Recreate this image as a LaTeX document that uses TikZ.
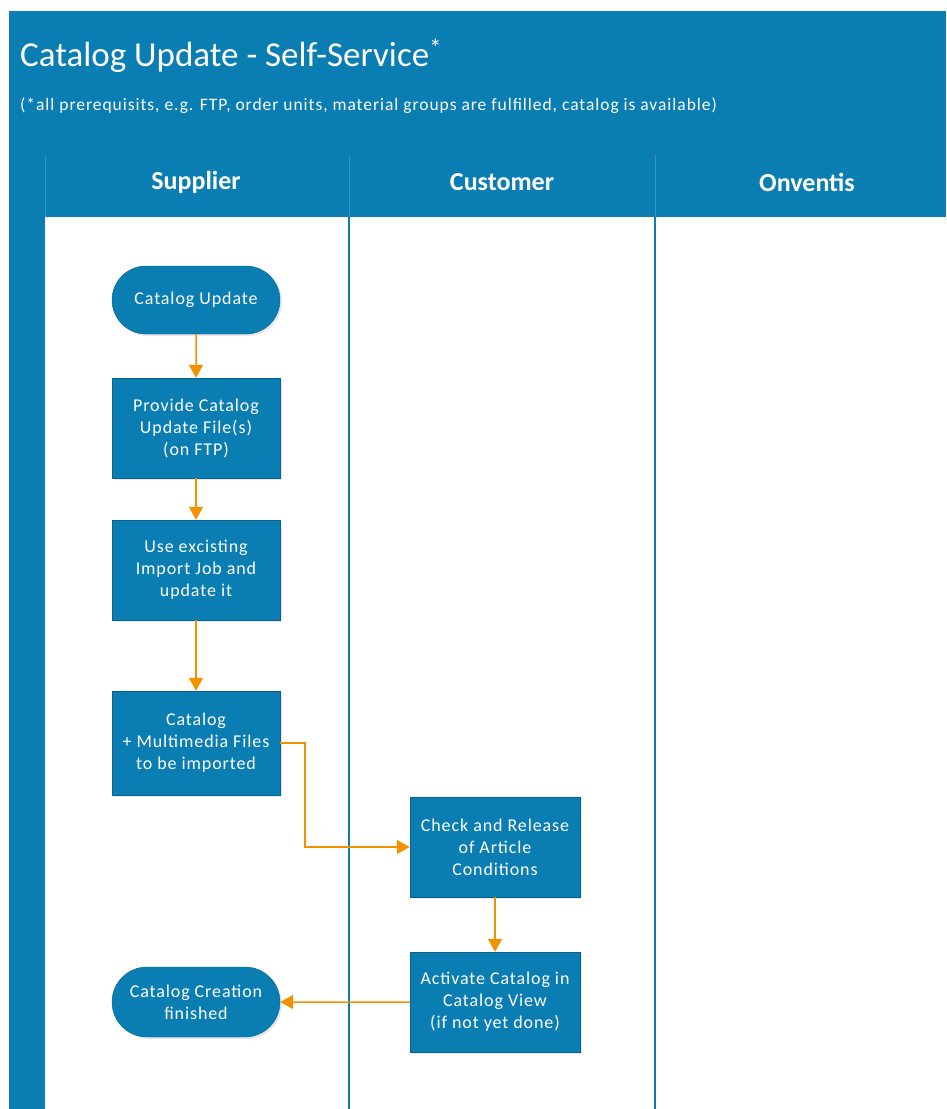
\documentclass[tikz,border=0pt]{standalone}
\usepackage{fontspec}
\setmainfont{Carlito}
\usetikzlibrary{arrows.meta,shapes.misc,shadows}
\definecolor{oblue}{HTML}{0A7DB3}
\definecolor{olane}{HTML}{3A95C2}
\definecolor{oorange}{HTML}{F39200}
\tikzset{
  stepbox/.style={rectangle, fill=oblue, draw=oblue!80!black, line width=0.4pt, text=white,
    minimum width=168pt, minimum height=100pt, align=center,
    font=\fontsize{18}{22}\selectfont\addfontfeature{LetterSpace=5}, inner sep=2pt,
    drop shadow={opacity=0.18, shadow xshift=2pt, shadow yshift=-2pt}},
  termbox/.style={rounded rectangle, fill=oblue, draw=oblue!80!black, line width=0.4pt, text=white,
    minimum width=172pt, minimum height=68pt, align=center,
    font=\fontsize{18}{22}\selectfont\addfontfeature{LetterSpace=5}, inner sep=2pt,
    drop shadow={opacity=0.18, shadow xshift=2pt, shadow yshift=-2pt}},
  flow/.style={draw=oorange, line width=1.5pt, -{Triangle[length=13pt,width=14pt]}},
  lanehead/.style={text=white, font=\fontsize{26}{30}\selectfont\bfseries},
  laneline/.style={draw=oblue, line width=2pt}
}
\begin{document}
\begin{tikzpicture}[x=1pt,y=-1pt]
\useasboundingbox (0,0) rectangle (946,1109);
% frame
\fill[oblue] (9,11) rectangle (946,1109);
\fill[white] (45,217) rectangle (946,1109);
% header separators
\draw[olane, line width=1pt] (45,155) -- (45,217);
\draw[olane, line width=1pt] (349,155) -- (349,217);
\draw[olane, line width=1pt] (655,155) -- (655,217);
% lane lines
\draw[laneline] (349,217) -- (349,1109);
\draw[laneline] (655,217) -- (655,1109);
% title
\node[anchor=base west, text=white, font=\fontsize{35}{40}\selectfont, inner sep=0pt] (title) at (20,66) {Catalog Update - Self-Service\textsuperscript{*}};
\node[anchor=base west, text=white, font=\fontsize{17.5}{20}\selectfont\addfontfeature{LetterSpace=5.5}, inner sep=0pt] (sub) at (20,110) {(*all prerequisits, e.g. FTP, order units, material groups are fulfilled, catalog is available)};
% lane headers
\node[lanehead] (hsup) at (196,182) {Supplier};
\node[lanehead] (hcus) at (502,182) {Customer};
\node[lanehead] (honv) at (807,182) {Onventis};
% nodes
\node[termbox] (start) at (196,300) {Catalog Update};
\node[stepbox] (prov) at (196,428) {Provide Catalog\\Update File(s)\\(on FTP)};
\node[stepbox] (use) at (196,570) {Use excisting\\Import Job and\\update it};
\node[stepbox, minimum height=104pt] (cat) at (196,743) {Catalog\\+ Multimedia Files\\to be imported};
\node[stepbox, minimum width=170pt] (chk) at (495,847) {Check and Release\\of Article\\Conditions};
\node[stepbox, minimum width=170pt] (act) at (495,1002) {Activate Catalog in\\Catalog View\\(if not yet done)};
\node[termbox, minimum height=70pt] (fin) at (196,1002) {Catalog Creation\\finished};
% connectors
\draw[flow] (start) -- (prov);
\draw[flow] (prov) -- (use);
\draw[flow] (use) -- (cat);
\draw[flow] (cat.east) -- ++(25,0) |- (chk.west);
\draw[flow] (chk) -- (act);
\draw[flow] (act) -- (fin);
\end{tikzpicture}
\end{document}
